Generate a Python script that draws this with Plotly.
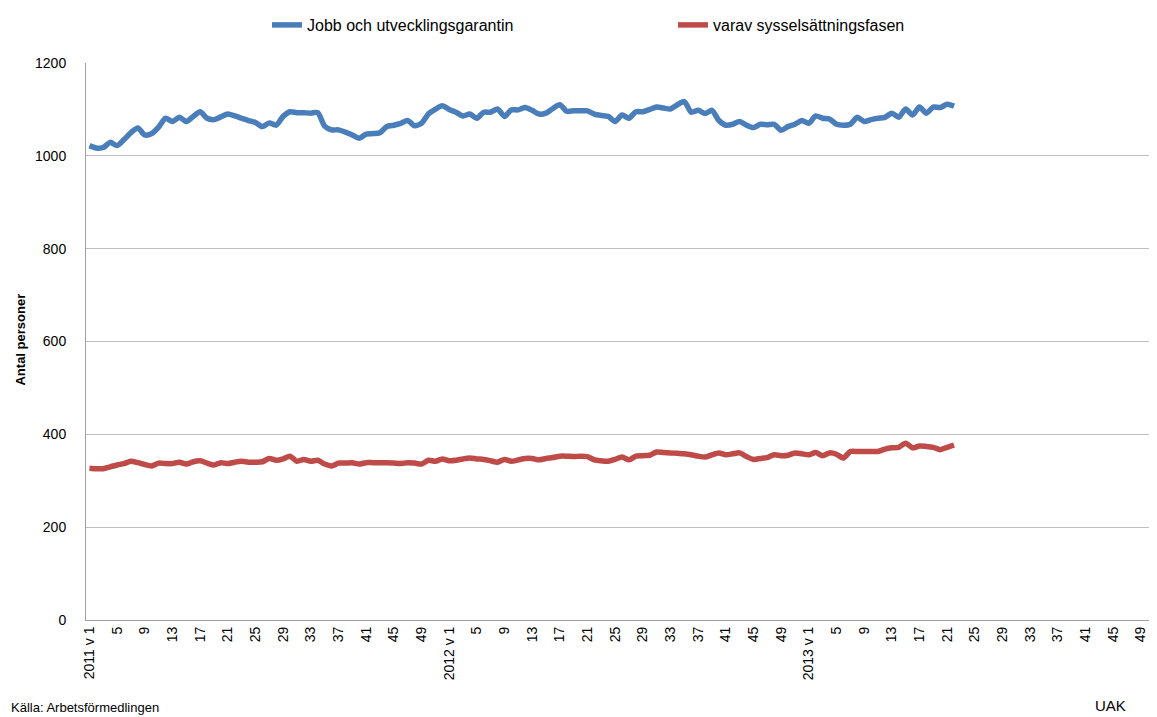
import plotly.graph_objects as go

# ---- data ----
years = ["2011", "2012", "2013"]
weeks = list(range(1, 53))
categories = [f"{y} v {w}" for y in years for w in weeks]
tick_vals = [f"{y} v {w}" for y in years for w in range(1, 53, 4)]
tick_text = [(f"{y} v 1" if w == 1 else str(w)) for y in years for w in range(1, 53, 4)]

jobb_garantin = [
    1022, 1017, 1018, 1029, 1022, 1035, 1050, 1060, 1045, 1048,
    1062, 1081, 1074, 1083, 1074, 1085, 1095, 1081, 1078, 1084,
    1090, 1086, 1081, 1076, 1072, 1063, 1071, 1066, 1085, 1095,
    1093, 1093, 1092, 1093, 1064, 1056, 1056, 1051, 1045, 1038,
    1047, 1048, 1050, 1063, 1066, 1070, 1076, 1065, 1070, 1090,
    1100, 1108, 1100, 1094, 1086, 1090, 1081, 1094, 1094, 1101,
    1085, 1099, 1099, 1104, 1098, 1090, 1092, 1102, 1110, 1096,
    1097, 1097, 1097, 1090, 1087, 1085, 1074, 1088, 1081, 1095,
    1095, 1100, 1105, 1103, 1101, 1110, 1117, 1094, 1098, 1091,
    1098, 1076, 1066, 1068, 1074, 1066, 1061, 1068, 1067, 1068,
    1055, 1063, 1068, 1076, 1070, 1086, 1081, 1079, 1068, 1066,
    1068, 1083, 1074, 1078, 1081, 1083, 1092, 1083, 1101, 1088,
    1105, 1092, 1105, 1104, 1111, 1107,
]

sysselsattningsfasen = [
    327, 326, 326, 330, 334, 337, 342, 339, 335, 332,
    338, 337, 337, 340, 336, 341, 343, 338, 334, 339,
    337, 340, 342, 340, 340, 341, 348, 344, 347, 353,
    342, 346, 342, 344, 336, 332, 338, 338, 339, 336,
    339, 339, 339, 339, 338, 337, 339, 338, 336, 344,
    342, 347, 343, 344, 347, 349, 347, 346, 343, 340,
    346, 342, 345, 348, 348, 345, 348, 350, 353, 353,
    352, 353, 352, 345, 343, 342, 346, 351, 345, 353,
    354, 355, 362, 361, 360, 359, 358, 356, 353, 351,
    356, 360, 356, 358, 360, 352, 346, 348, 350, 356,
    354, 355, 360, 358, 356, 361, 354, 360, 357, 349,
    363, 363, 363, 363, 363, 368, 371, 372, 381, 371,
    375, 374, 372, 367, 372, 377,
]

FONT = "Liberation Sans"
W, H = 1157, 717
OFF = 8  # page body margin offset
L, T = 85.5 - OFF, 63 - OFF
B = H - (620 - OFF)
R = OFF
plot_w = W - L - R
plot_h = H - T - B
STEP = 6.92  # pixels per week in the reference

fig = go.Figure()
fig.add_trace(go.Scatter(
    x=categories[:len(jobb_garantin)], y=jobb_garantin, mode="lines",
    name="Jobb och utvecklingsgarantin",
    line=dict(color="#4A7EBB", width=5.5, shape="spline", smoothing=0.7),
))
fig.add_trace(go.Scatter(
    x=categories[:len(sysselsattningsfasen)], y=sysselsattningsfasen, mode="lines",
    name="varav sysselsättningsfasen",
    line=dict(color="#BE4B48", width=5.5, shape="spline", smoothing=0.7),
))

def px_to_paper_x(px):
    return (px - OFF - L) / plot_w

def px_to_paper_y(py):
    return (H - B - (py - OFF)) / plot_h

fig.update_layout(
    width=W, height=H,
    margin=dict(l=L, r=R, t=T, b=B, pad=0, autoexpand=False),
    paper_bgcolor="white", plot_bgcolor="white",
    font=dict(family=FONT, size=14, color="#000000"),
    showlegend=True,
    legend=dict(
        orientation="h", xref="container", yref="container",
        x=259 / W, xanchor="left", y=1.0, yanchor="top",
        entrywidth=361, entrywidthmode="pixels",
        font=dict(family=FONT, size=16, color="#000000"),
        bgcolor="rgba(0,0,0,0)", itemwidth=30,
    ),
    xaxis=dict(
        type="category", categoryorder="array", categoryarray=categories,
        range=[-0.5, -0.5 + plot_w / STEP],
        tickmode="array", tickvals=tick_vals, ticktext=tick_text,
        tickangle=-90, tickfont=dict(family=FONT, size=14),
        showgrid=False, showline=True, linecolor="#A0A0A0", linewidth=1,
        ticks="", zeroline=False, automargin=False,
    ),
    yaxis=dict(
        range=[0, 1200], tickmode="array", tickvals=[0, 200, 400, 600, 800, 1000, 1200],
        tickfont=dict(family=FONT, size=14),
        showgrid=True, gridcolor="#BFBFBF", gridwidth=1,
        showline=True, linecolor="#A0A0A0", linewidth=1,
        ticks="", ticklabelstandoff=16, zeroline=False, automargin=False,
    ),
    annotations=[
        dict(text="<b>Antal personer</b>", textangle=-90, xref="paper", yref="paper",
             x=px_to_paper_x(19), y=px_to_paper_y(340), xanchor="center", yanchor="middle",
             showarrow=False, font=dict(family=FONT, size=13, color="#000000")),
        dict(text="UAK", xref="paper", yref="paper",
             x=px_to_paper_x(1110), y=px_to_paper_y(705), xanchor="center", yanchor="middle",
             showarrow=False, font=dict(family=FONT, size=15, color="#000000")),
        dict(text="Källa: Arbetsförmedlingen", xref="paper", yref="paper",
             x=px_to_paper_x(OFF), y=px_to_paper_y(707), xanchor="left", yanchor="middle",
             showarrow=False, font=dict(family=FONT, size=13, color="#000000")),
    ],
)

fig.write_html("out.html")
